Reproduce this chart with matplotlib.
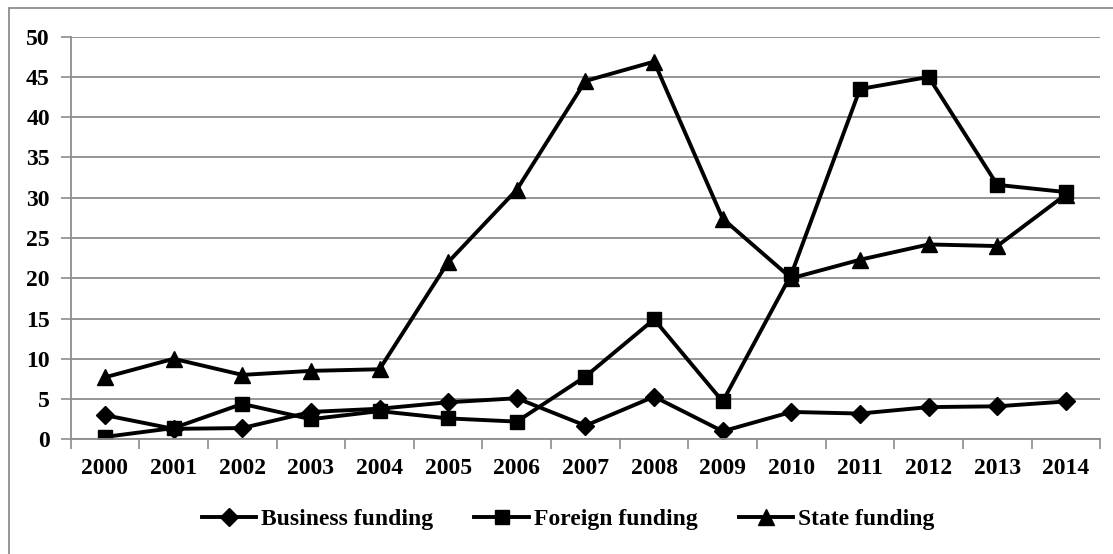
import matplotlib
matplotlib.use("Agg")
import matplotlib.pyplot as plt
import numpy as np
from matplotlib.patches import Rectangle

years = [str(y) for y in range(2000, 2015)]
business = [3.0, 1.3, 1.4, 3.4, 3.8, 4.6, 5.1, 1.7, 5.3, 1.0, 3.4, 3.2, 4.0, 4.1, 4.7]
foreign = [0.3, 1.4, 4.4, 2.5, 3.5, 2.6, 2.2, 7.8, 14.9, 4.7, 20.5, 43.5, 45.0, 31.6, 30.7]
state = [7.7, 10.0, 8.0, 8.5, 8.7, 22.0, 31.0, 44.5, 46.9, 27.4, 20.0, 22.3, 24.2, 24.0, 30.4]

plt.rcParams["font.family"] = ["Liberation Serif", "DejaVu Serif"]
plt.rcParams["font.weight"] = "bold"

fig = plt.figure(figsize=(11.13, 5.54), dpi=100)
ax = fig.add_axes([0.0635, 0.207, 0.925, 0.7268])

x = np.arange(len(years))
ax.plot(x, business, color="black", lw=2.8, marker="D", ms=9.5, label="Business funding")
ax.plot(x, foreign, color="black", lw=2.8, marker="s", ms=10, label="Foreign funding")
ax.plot(x, state, color="black", lw=2.8, marker="^", ms=11, label="State funding")

ax.set_xlim(-0.5, len(years) - 0.5)
ax.set_ylim(0, 50)
ax.set_yticks(range(0, 51, 5))
ax.set_xticks(x)
ax.set_xticklabels(years)
ax.set_xticks(np.arange(-0.5, len(years)), minor=True)
ax.tick_params(axis="x", which="major", length=0, pad=13.5, labelsize=17)
ax.tick_params(axis="x", which="minor", length=7, width=1.2, color="#8c8c8c", direction="out")
ax.tick_params(axis="y", length=7, width=1.2, color="#8c8c8c", pad=8, labelsize=17)
for lab in ax.get_xticklabels() + ax.get_yticklabels():
    lab.set_fontweight("bold")

ax.grid(axis="y", color="#8c8c8c", lw=1.3)
ax.set_axisbelow(True)
for s in ["top", "right"]:
    ax.spines[s].set_visible(False)
for s in ["left", "bottom"]:
    ax.spines[s].set_color("#8c8c8c")
    ax.spines[s].set_linewidth(1.3)

fig.legend(loc="center", bbox_to_anchor=(568 / 1113, 1 - 519 / 554), ncol=3,
           frameon=False, prop={"size": 17, "weight": "bold"},
           handlelength=2.3, handletextpad=0.2, columnspacing=1.75, markerscale=1.0)

fig.patches.append(Rectangle((9 / 1113, -0.05), 1.2, 1 - 8 / 554 + 0.05,
                             transform=fig.transFigure, fill=False,
                             edgecolor="#8c8c8c", lw=1.3))

fig.savefig("out.png", dpi=100)
